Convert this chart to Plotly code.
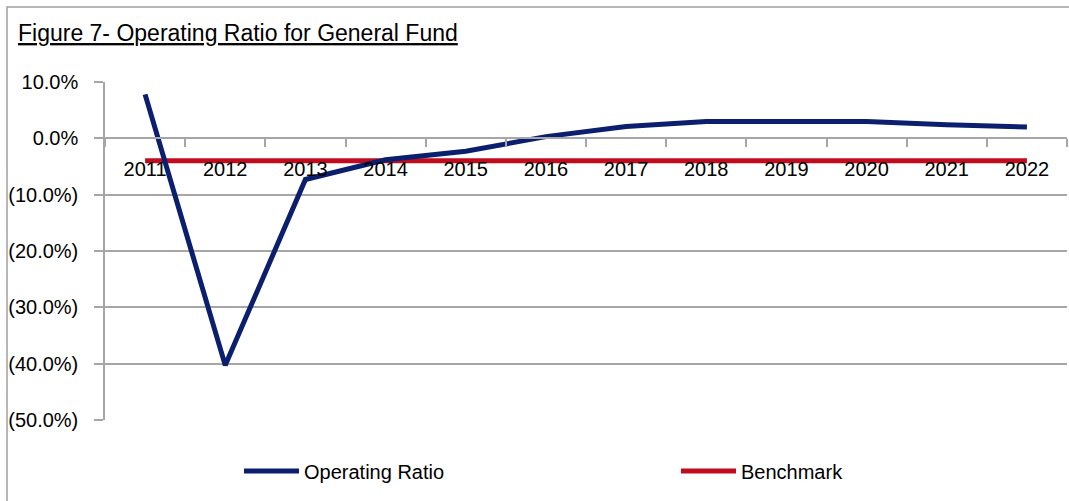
import plotly.graph_objects as go

years = ["2011", "2012", "2013", "2014", "2015", "2016", "2017", "2018", "2019", "2020", "2021", "2022"]
operating_ratio = [7.8, -40.3, -7.3, -3.8, -2.3, 0.3, 2.1, 3.0, 3.0, 3.0, 2.4, 2.0]
benchmark = [-4.0, -4.0, -4.0, -4.0, -4.0, -4.0, -4.0, -4.0, -4.0, -4.0, -4.0, -4.0]
y_tick_vals = [10, 0, -10, -20, -30, -40, -50]
y_tick_text = ["10.0%", "0.0%", "(10.0%)", "(20.0%)", "(30.0%)", "(40.0%)", "(50.0%)"]

FONT = "Liberation Sans, Arial, sans-serif"
GRID = "#a6a6a6"

W, H = 1069, 501
L, R, T, B = 105, 2, 82, 81
pw, ph = W - L - R, H - T - B


def px_x(x):
    return (x - L) / pw


def px_y(y):
    return (H - B - y) / ph


fig = go.Figure()
fig.add_trace(go.Scatter(x=years, y=benchmark, mode="lines", name="Benchmark",
                         line=dict(color="#c00d1e", width=5), legendrank=2))
fig.add_trace(go.Scatter(x=years, y=operating_ratio, mode="lines", name="Operating Ratio",
                         line=dict(color="#0c1f6e", width=5), legendrank=1))

fig.update_layout(
    width=W, height=H,
    margin=dict(l=L, r=R, t=T, b=B, autoexpand=False),
    paper_bgcolor="white", plot_bgcolor="white",
    font=dict(family=FONT, size=20, color="black"),
    title=dict(text="<u>Figure 7- Operating Ratio for General Fund</u>",
               font=dict(family=FONT, size=23, color="black"),
               x=18 / W, xanchor="left", xref="container",
               y=1 - 33 / H, yanchor="middle", yref="container"),
    showlegend=True,
    legend=dict(orientation="h", x=px_x(239), y=px_y(471), xanchor="left", yanchor="middle",
                font=dict(family=FONT, size=20), itemwidth=55,
                entrywidth=367, entrywidthmode="pixels", bgcolor="rgba(0,0,0,0)"),
    xaxis=dict(type="category", range=[-0.5, 11.5], anchor="free", position=50 / 60,
               showline=True, linecolor=GRID, linewidth=1.5, showgrid=False, automargin=False,
               ticks="outside", tickson="boundaries", ticklen=8, tickcolor=GRID, tickwidth=1.5,
               tickfont=dict(family=FONT, size=20), ticklabelstandoff=13),
    yaxis=dict(range=[-50, 10], tickvals=y_tick_vals, ticktext=y_tick_text,
               showgrid=True, gridcolor=GRID, gridwidth=1.5, zeroline=False, automargin=False,
               showline=True, linecolor=GRID, linewidth=1.5,
               ticks="outside", ticklen=9, tickcolor=GRID, tickwidth=1.5,
               tickfont=dict(family=FONT, size=20), ticklabelstandoff=12),
    shapes=[dict(type="rect", xref="paper", yref="paper",
                 x0=px_x(7), x1=px_x(W + 20), y0=px_y(H + 20), y1=px_y(7),
                 line=dict(color="#a0a0a0", width=1.5), layer="below")],
)

fig.write_html(
    "out.html",
    config={"displayModeBar": False},
    post_script="document.body.style.margin='0';document.body.style.overflow='hidden';",
)
